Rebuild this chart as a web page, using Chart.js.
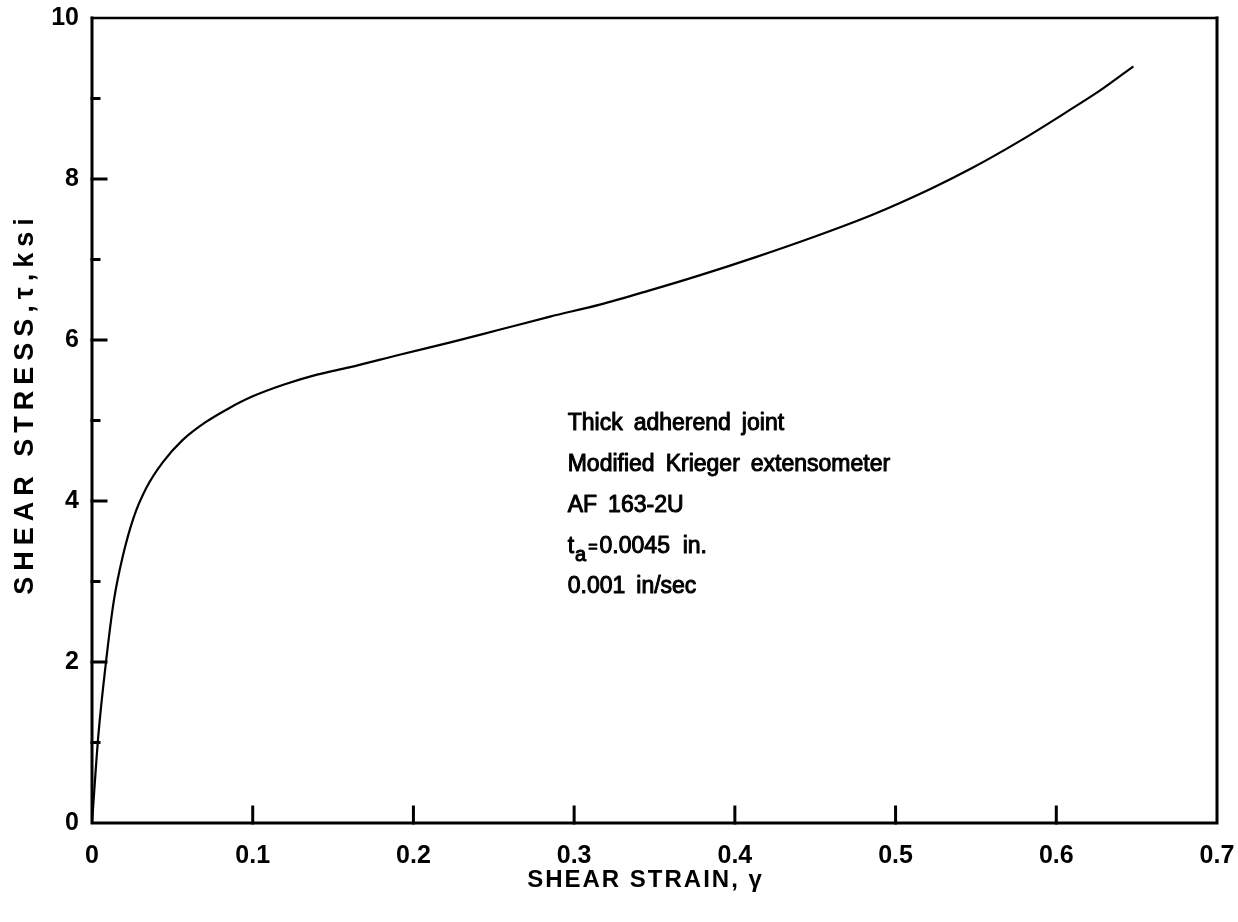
<!DOCTYPE html>
<html lang="en">
<head>
    <meta charset="UTF-8">
    <title>Shear Stress vs Shear Strain</title>
    <script src="https://cdn.jsdelivr.net/npm/chart.js"></script>
    <style>
        body { margin: 0; background: #fff; }
        #wrap { width: 1238px; height: 922px; }
    </style>
</head>
<body>
    <div id="wrap"><canvas id="myChart" width="1238" height="922"></canvas></div>
    <script>
        // stress-strain curve
        const strain = [0, 0.004, 0.009, 0.0135, 0.019, 0.026, 0.034, 0.044, 0.056, 0.07,
            0.085, 0.1, 0.12, 0.14, 0.16, 0.192, 0.223, 0.254, 0.285, 0.316,
            0.346, 0.376, 0.413, 0.449, 0.486, 0.522, 0.547, 0.578, 0.607, 0.628, 0.648];
        const stress = [0, 1.1, 2.05, 2.75, 3.3, 3.8, 4.17, 4.48, 4.75, 4.97,
            5.15, 5.3, 5.45, 5.57, 5.66, 5.82, 5.97, 6.13, 6.29, 6.44,
            6.61, 6.79, 7.03, 7.28, 7.56, 7.88, 8.13, 8.48, 8.84, 9.11, 9.40];

        const xTicks = [0, 0.1, 0.2, 0.3, 0.4, 0.5, 0.6, 0.7];
        const yTicks = [0, 2, 4, 6, 8, 10];

        const xTitle = 'SHEAR STRAIN, γ';
        const yTitle = 'SHEAR STRESS,τ,ksi';
        const notes = [
            'Thick adherend joint',
            'Modified Krieger extensometer',
            'AF 163-2U',
            't_a=0.0045 in.',
            '0.001 in/sec'
        ];

        const tickFont = { family: 'Liberation Sans', size: 25, weight: 'bold' };

        // box around the plot with inward tick marks, axis titles and the test notes
        const framePlugin = {
            id: 'frame',
            afterDatasetsDraw(chart) {
                const ctx = chart.ctx;
                const a = chart.chartArea;
                const xs = chart.scales.x, ys = chart.scales.y;
                ctx.save();
                ctx.strokeStyle = '#000';
                ctx.fillStyle = '#000';
                ctx.lineCap = 'square';

                ctx.lineWidth = 3;
                ctx.beginPath();
                ctx.moveTo(a.left, a.top); ctx.lineTo(a.left, a.bottom);
                ctx.lineTo(a.right, a.bottom); ctx.lineTo(a.right, a.top);
                ctx.stroke();
                ctx.lineWidth = 2.5;
                ctx.beginPath();
                ctx.moveTo(a.left, a.top); ctx.lineTo(a.right, a.top);
                ctx.stroke();

                // y ticks: long on labelled values, short in between
                ctx.lineWidth = 3;
                for (let v = 1; v < yTicks[yTicks.length - 1]; v++) {
                    const py = ys.getPixelForValue(v);
                    const len = v % 2 ? 7 : 14;
                    ctx.beginPath();
                    ctx.moveTo(a.left, py); ctx.lineTo(a.left + len, py);
                    ctx.stroke();
                }
                // x ticks point up into the plot
                xTicks.slice(1, -1).forEach(v => {
                    const px = xs.getPixelForValue(v);
                    ctx.beginPath();
                    ctx.moveTo(px, a.bottom); ctx.lineTo(px, a.bottom - 16);
                    ctx.stroke();
                });

                // axis titles, letter-spaced
                ctx.textAlign = 'center';
                ctx.textBaseline = 'middle';
                ctx.font = 'bold 24px "Liberation Sans"';
                ctx.letterSpacing = '2px';
                ctx.fillText(xTitle, (a.left + a.right) / 2 - 9, 880);
                ctx.save();
                ctx.translate(26, (a.top + a.bottom) / 2 - 17);
                ctx.rotate(-Math.PI / 2);
                ctx.font = 'bold 27px "Liberation Sans"';
                ctx.letterSpacing = '6px';
                ctx.fillText(yTitle, 0, 0);
                ctx.restore();
                ctx.letterSpacing = '0px';

                // notes block
                ctx.textAlign = 'left';
                ctx.textBaseline = 'alphabetic';
                ctx.lineWidth = 1;
                ctx.lineJoin = 'round';
                const x0 = xs.getPixelForValue(0.296);
                const y0 = ys.getPixelForValue(4.88);
                const txt = (s, x, y, size) => {
                    ctx.font = size + 'px "Liberation Sans"';
                    ctx.fillText(s, x, y);
                    ctx.strokeText(s, x, y);
                    return x + ctx.measureText(s).width;
                };
                notes.forEach((line, i) => {
                    const y = y0 + i * 40.8;
                    if (line.startsWith('t_a')) {
                        let x = txt('t', x0, y, 23);
                        x = txt('a', x + 1, y + 8, 20);
                        x = txt('=', x + 2, y - 1, 16);
                        txt(line.slice(4).replace(' ', '  '), x + 2, y, 23);
                    } else {
                        let x = x0;
                        line.split(' ').forEach(w => { x = txt(w, x, y, 23) + 11; });
                    }
                });
                ctx.restore();
            }
        };

        const ctx = document.getElementById('myChart').getContext('2d');
        const myChart = new Chart(ctx, {
            type: 'line',
            data: {
                datasets: [{
                    data: strain.map((s, i) => ({ x: s, y: stress[i] })),
                    borderColor: '#000',
                    borderWidth: 2.2,
                    pointRadius: 0,
                    fill: false,
                    cubicInterpolationMode: 'monotone'
                }]
            },
            options: {
                responsive: false,
                animation: false,
                devicePixelRatio: 1,
                layout: { padding: { top: 18, right: 21, left: 0, bottom: 0 } },
                plugins: {
                    legend: { display: false },
                    tooltip: { enabled: false }
                },
                scales: {
                    x: {
                        type: 'linear',
                        min: 0,
                        max: 0.7,
                        afterFit: s => {
                            s.height = 99;
                            s.paddingLeft = 0; s.paddingRight = 0;
                        },
                        afterBuildTicks: s => { s.ticks = xTicks.map(v => ({ value: v })); },
                        grid: { display: false, drawTicks: false },
                        border: { display: false },
                        ticks: {
                            color: '#000',
                            font: tickFont,
                            padding: 18,
                            maxRotation: 0,
                            callback: v => v === 0 ? '0' : v.toFixed(1)
                        }
                    },
                    y: {
                        type: 'linear',
                        min: 0,
                        max: 10,
                        afterFit: s => {
                            s.width = 92;
                            s.paddingTop = 0; s.paddingBottom = 0;
                        },
                        afterBuildTicks: s => { s.ticks = yTicks.map(v => ({ value: v })); },
                        grid: { display: false, drawTicks: false },
                        border: { display: false },
                        ticks: {
                            color: '#000',
                            font: tickFont,
                            padding: 13
                        }
                    }
                }
            },
            plugins: [framePlugin]
        });
    </script>
</body>
</html>
